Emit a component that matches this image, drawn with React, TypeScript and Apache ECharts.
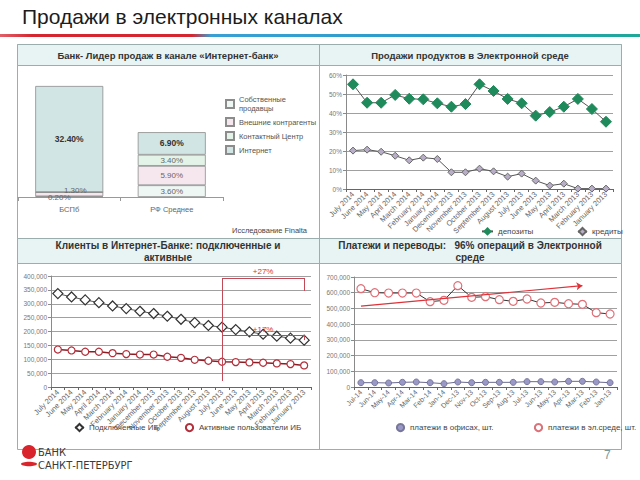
import React, { useEffect, useRef } from 'react';
import * as echarts from 'echarts';

const FONT = '"Liberation Sans", Arial, sans-serif';

// Panel 1: stacked bars (%)
const barCategories = ['БСПб', 'РФ Среднее'];
const ownSellers = [0.2, 3.6];
const externalAgents = [1.3, 5.9];
const contactCenter = [0, 3.4];
const internetChannel = [32.4, 6.9];

// Panel 2 & 3 months
const monthsLong = ['July 2014', 'June 2014', 'May 2014', 'April 2014', 'March 2014', 'February 2014', 'January 2014', 'December 2013', 'November 2013', 'October 2013', 'September 2013', 'August 2013', 'July 2013', 'June 2013', 'May 2013', 'April 2013', 'March 2013', 'February 2013', 'January 2013'];
const depositShare = [55.1, 45.4, 45.4, 49.5, 47.5, 47.2, 45.1, 43.3, 44.7, 55.1, 51.6, 47.4, 45.1, 38.6, 40.5, 43.3, 47.4, 42.1, 35.4];
const creditShare = [20.2, 20.7, 19.6, 17.5, 15.1, 16.5, 15.8, 8.8, 8.8, 10.7, 9.3, 6.5, 8.1, 4.4, 1.8, 2.8, 0.2, 0.2, 0.2];
const pctTicks = [0, 10, 20, 30, 40, 50, 60];

const connectedClients = [336500, 324500, 313800, 304000, 292000, 282600, 273000, 264700, 255000, 244000, 232000, 221600, 215600, 207000, 198800, 190000, 183000, 176000, 168900];
const activeClients = [135000, 131700, 127000, 127000, 122000, 118600, 117000, 117000, 109000, 105000, 98000, 94600, 91000, 89800, 88600, 87400, 85000, 82600, 77800];
const growthStartIndex = 12;
const growthEndIndex = 18;
const growth27 = { label: '+27%', top: 392800, end: 346000, bottom: 21600 };
const growth17 = { label: '+17%', top: 187000, end: 169000 };

// Panel 4
const monthsShort = ['Jul-14', 'Jun-14', 'May-14', 'Apr-14', 'Mar-14', 'Feb-14', 'Jan-14', 'Dec-13', 'Nov-13', 'Oct-13', 'Sep-13', 'Aug-13', 'Jul-13', 'Jun-13', 'May-13', 'Apr-13', 'Mar-13', 'Feb-13', 'Jan-13'];
const officePayments = [27500, 27500, 25500, 29700, 31800, 27500, 21000, 31800, 27500, 29700, 29700, 29700, 34000, 34000, 31800, 36000, 36000, 31800, 27500];
const onlinePayments = [625800, 600000, 598000, 598000, 598000, 543000, 551500, 645000, 570600, 574800, 555800, 545000, 560000, 534500, 538800, 530000, 526000, 473000, 464500];
const trendStart = { index: 0, value: 515000 };
const trendEnd = { index: 16, value: 645000 };

const thousands = (v: number) => (v === 0 ? '0' : v.toLocaleString('en-US'));

export default function App() {
  const ref = useRef<HTMLDivElement>(null);
  useEffect(() => {
    if (!ref.current) return;
    const chart = echarts.init(ref.current, null, { renderer: 'svg' });

    const barLabel = (p: any) => (p.value ? Number(p.value).toFixed(2) + '%' : '');
    const smallOffsets: Record<string, number[]> = { own: [-10, 1], ext: [6, -4] };
    const mkBarData = (arr: number[], key?: string) =>
      arr.map((v, i) => (i === 0 && key ? { value: v, label: { offset: smallOffsets[key] } } : v));

    const barSeries = (name: string, data: any[], color: string, bold = false) => ({
      type: 'bar',
      name,
      stack: 'total',
      xAxisIndex: 0,
      yAxisIndex: 0,
      barWidth: 68,
      data,
      itemStyle: { color, borderColor: '#8c8c8c', borderWidth: 0.8 },
      label: {
        show: true,
        position: 'inside',
        formatter: barLabel,
        fontFamily: FONT,
        fontSize: bold ? 8.5 : 8,
        fontWeight: bold ? 'bold' : 'normal',
        color: bold ? '#333' : '#666',
      },
    });

    const lineYAxis = (gridIndex: number, max: number, interval: number, fmt: any) => ({
      type: 'value',
      gridIndex,
      min: 0,
      max,
      interval,
      axisLine: { show: true, lineStyle: { color: '#8a8a8a' } },
      axisTick: { show: true, length: 3, lineStyle: { color: '#8a8a8a' } },
      axisLabel: { fontFamily: FONT, fontSize: 6.5, color: '#777', margin: 4, formatter: fmt },
      splitLine: { lineStyle: { color: '#a0a0a0', width: 1 } },
    });
    const lineXAxis = (gridIndex: number, data: string[], fontSize: number) => ({
      type: 'category',
      gridIndex,
      data,
      axisLine: { lineStyle: { color: '#666' } },
      axisTick: { show: true, length: 3, lineStyle: { color: '#666' } },
      axisLabel: { interval: 0, rotate: 45, fontFamily: FONT, fontSize, color: '#666', margin: 4 },
    });

    const legendText = { fontFamily: FONT, fontSize: 8, color: '#444' };
    const hdr = { fill: '#e8f4f4', stroke: '#9aaeae', lineWidth: 1 };

    const option: any = {
      animation: false,
      backgroundColor: '#fff',
      textStyle: { fontFamily: FONT },
      grid: [
        { left: 18, top: 66, width: 205, height: 131, outerBoundsMode: 'none' },
        { left: 346, top: 75, width: 267, height: 114, outerBoundsMode: 'none' },
        { left: 51, top: 276, width: 260, height: 111, outerBoundsMode: 'none' },
        { left: 354, top: 277, width: 263, height: 110, outerBoundsMode: 'none' },
      ],
      xAxis: [
        {
          type: 'category',
          gridIndex: 0,
          data: barCategories,
          axisLine: { lineStyle: { color: '#999' } },
          axisTick: { show: true, length: 4, lineStyle: { color: '#999' } },
          axisLabel: { fontFamily: FONT, fontSize: 7.5, color: '#666', margin: 8 },
        },
        lineXAxis(1, monthsLong, 7.5),
        lineXAxis(2, monthsLong, 7.5),
        lineXAxis(3, monthsShort, 7),
      ],
      yAxis: [
        { type: 'value', gridIndex: 0, min: 0, max: 40, show: false },
        lineYAxis(1, pctTicks[pctTicks.length - 1], 10, '{value}%'),
        lineYAxis(2, 400000, 50000, thousands),
        lineYAxis(3, 700000, 100000, thousands),
      ],
      legend: [
        {
          orient: 'vertical',
          left: 220,
          top: 90,
          icon: 'rect',
          itemWidth: 8,
          itemHeight: 8,
          itemGap: 4,
          data: ['Собственные продавцы', 'Внешние контрагенты', 'Контактный Центр', 'Интернет'],
          formatter: (n: string) => (n === 'Собственные продавцы' ? 'Собственные\nпродавцы' : n),
          textStyle: { fontFamily: FONT, fontSize: 7.5, color: '#555', lineHeight: 9 },
        },
        { left: 476, top: 222, itemWidth: 11, itemHeight: 11, data: ['депозиты'], textStyle: legendText },
        { left: 572, top: 222, itemWidth: 9, itemHeight: 9, data: ['кредиты'], textStyle: legendText },
        { left: 69, top: 418, itemWidth: 9, itemHeight: 9, data: ['Подключенные ИБ'], textStyle: legendText },
        { left: 179, top: 418, itemWidth: 9, itemHeight: 9, data: ['Активные пользователи ИБ'], textStyle: legendText },
        { left: 390, top: 418, itemWidth: 9, itemHeight: 9, data: ['платежи в офисах, шт.'], textStyle: legendText },
        { left: 528, top: 418, itemWidth: 9, itemHeight: 9, data: ['платежи в эл.среде, шт.'], textStyle: legendText },
      ],
      series: [
        barSeries('Собственные продавцы', mkBarData(ownSellers, 'own'), '#eef7f3'),
        barSeries('Внешние контрагенты', mkBarData(externalAgents, 'ext'), '#f6e7ef'),
        barSeries('Контактный Центр', mkBarData(contactCenter), '#e3f3e7'),
        barSeries('Интернет', mkBarData(internetChannel), '#d2e5e5', true),
        {
          type: 'line',
          name: 'депозиты',
          xAxisIndex: 1,
          yAxisIndex: 1,
          data: depositShare,
          symbol: 'diamond',
          symbolSize: 11,
          itemStyle: { color: '#1f8a5b', borderColor: '#1f8a5b' },
          lineStyle: { color: '#555', width: 1 },
        },
        {
          type: 'line',
          name: 'кредиты',
          xAxisIndex: 1,
          yAxisIndex: 1,
          data: creditShare,
          symbol: 'diamond',
          symbolSize: 7,
          itemStyle: { color: '#b8aec8', borderColor: '#666', borderWidth: 1 },
          lineStyle: { color: '#555', width: 1 },
        },
        {
          type: 'line',
          name: 'Подключенные ИБ',
          xAxisIndex: 2,
          yAxisIndex: 2,
          data: connectedClients,
          symbol: 'diamond',
          symbolSize: 10,
          itemStyle: { color: '#ffffff', borderColor: '#333', borderWidth: 1.2 },
          lineStyle: { color: '#555', width: 1 },
        },
        {
          type: 'line',
          name: 'Активные пользователи ИБ',
          xAxisIndex: 2,
          yAxisIndex: 2,
          data: activeClients,
          symbol: 'circle',
          symbolSize: 7,
          itemStyle: { color: '#ffffff', borderColor: '#b2303c', borderWidth: 1.2 },
          lineStyle: { color: '#8c1c24', width: 1.5 },
          markLine: {
            silent: true,
            symbol: ['none', 'none'],
            lineStyle: { color: '#c24a58', width: 1, type: 'solid' },
            label: { show: false },
            data: [
              [{ coord: [growthStartIndex, growth27.top] }, { coord: [growthStartIndex, growth27.bottom] }],
              [
                { coord: [growthStartIndex, growth27.top], label: { show: true, position: 'middle', formatter: growth27.label, color: '#d0304a', fontSize: 8, fontFamily: FONT, distance: 2 } },
                { coord: [growthEndIndex, growth27.top] },
              ],
              [{ coord: [growthEndIndex, growth27.top] }, { coord: [growthEndIndex, growth27.end] }],
              [
                { coord: [growthStartIndex, growth17.top], label: { show: true, position: 'middle', formatter: growth17.label, color: '#d0304a', fontSize: 8, fontFamily: FONT, distance: 2 } },
                { coord: [growthEndIndex, growth17.top] },
              ],
              [{ coord: [growthEndIndex, growth17.top] }, { coord: [growthEndIndex, growth17.end] }],
            ],
          },
        },
        {
          type: 'line',
          name: 'платежи в офисах, шт.',
          xAxisIndex: 3,
          yAxisIndex: 3,
          data: officePayments,
          symbol: 'circle',
          symbolSize: 6,
          itemStyle: { color: '#9a98c6', borderColor: '#77779a', borderWidth: 1 },
          lineStyle: { color: '#6a6a90', width: 1 },
        },
        {
          type: 'line',
          name: 'платежи в эл.среде, шт.',
          xAxisIndex: 3,
          yAxisIndex: 3,
          data: onlinePayments,
          symbol: 'circle',
          symbolSize: 8,
          itemStyle: { color: '#ffffff', borderColor: '#e07078', borderWidth: 1.2 },
          lineStyle: { color: '#333', width: 1 },
          markLine: {
            silent: true,
            symbol: ['none', 'arrow'],
            symbolSize: 6,
            lineStyle: { color: '#e03038', width: 1.2, type: 'solid' },
            label: { show: false },
            data: [[{ coord: [trendStart.index, trendStart.value] }, { coord: [trendEnd.index, trendEnd.value] }]],
          },
        },
      ],
      graphic: [
        {
          type: 'text',
          left: 22,
          top: 6,
          style: { text: 'Продажи в электронных каналах', fontFamily: FONT, fontSize: 21, fill: '#1c1c1c' },
        },
        {
          type: 'rect',
          shape: { x: 0, y: 34, width: 640, height: 3 },
          style: {
            fill: new echarts.graphic.LinearGradient(0, 0, 1, 0, [
              { offset: 0, color: '#e06068' },
              { offset: 0.05, color: '#d42630' },
              { offset: 0.3, color: '#d42630' },
              { offset: 0.33, color: '#3aa0d4' },
              { offset: 0.7, color: '#2a9cc8' },
              { offset: 1, color: '#1fa898' },
            ]),
          },
        },
        {
          type: 'group',
          z: 50,
          children: [
            { type: 'rect', shape: { x: 17.5, y: 44.5, width: 604, height: 405 }, style: { fill: 'none', stroke: '#9aaeae', lineWidth: 1 } },
            { type: 'rect', shape: { x: 17.5, y: 44.5, width: 604, height: 21 }, style: hdr },
            { type: 'rect', shape: { x: 17.5, y: 238.5, width: 604, height: 25 }, style: hdr },
            { type: 'line', shape: { x1: 319.5, y1: 44.5, x2: 319.5, y2: 449.5 }, style: { stroke: '#9aaeae', lineWidth: 1 } },
            {
              type: 'text',
              x: 168,
              y: 55.5,
              style: { text: 'Банк- Лидер продаж в канале «Интернет-банк»', fontFamily: FONT, fontSize: 9.5, fontWeight: 'bold', fill: '#333', align: 'center', verticalAlign: 'middle' },
            },
            {
              type: 'text',
              x: 470,
              y: 55.5,
              style: { text: 'Продажи продуктов в Электронной среде', fontFamily: FONT, fontSize: 9.5, fontWeight: 'bold', fill: '#333', align: 'center', verticalAlign: 'middle' },
            },
            {
              type: 'text',
              x: 168,
              y: 251,
              style: { text: 'Клиенты в Интернет-Банке: подключенные и\nактивные', fontFamily: FONT, fontSize: 10, fontWeight: 'bold', fill: '#333', align: 'center', verticalAlign: 'middle', lineHeight: 12 },
            },
            {
              type: 'text',
              x: 470,
              y: 251,
              style: { text: 'Платежи и переводы:   96% операций в Электронной\nсреде', fontFamily: FONT, fontSize: 10, fontWeight: 'bold', fill: '#333', align: 'center', verticalAlign: 'middle', lineHeight: 12 },
            },
          ],
        },
        {
          type: 'text',
          x: 232,
          y: 230,
          style: { text: 'Исследование Finalta', fontFamily: FONT, fontSize: 7.5, fill: '#444', verticalAlign: 'middle' },
        },
        { type: 'circle', shape: { cx: 29, cy: 452, r: 7 }, style: { fill: '#d8242a' } },
        { type: 'ellipse', shape: { cx: 29, cy: 464, rx: 8, ry: 2.2 }, style: { fill: '#d8242a' } },
        {
          type: 'text',
          x: 38,
          y: 452,
          style: { text: 'БАНК', fontFamily: '"DejaVu Sans Condensed", "DejaVu Sans", sans-serif', fontSize: 11, fill: '#3a3a3a', verticalAlign: 'middle' },
        },
        {
          type: 'text',
          x: 38,
          y: 465,
          style: { text: 'САНКТ-ПЕТЕРБУРГ', fontFamily: '"DejaVu Sans Condensed", "DejaVu Sans", sans-serif', fontSize: 11, fill: '#3a3a3a', verticalAlign: 'middle' },
        },
        {
          type: 'text',
          x: 604,
          y: 455,
          style: { text: '7', fontFamily: FONT, fontSize: 12, fill: '#7a9a9a', verticalAlign: 'middle' },
        },
      ],
    };

    chart.setOption(option);
    return () => chart.dispose();
  }, []);

  return <div ref={ref} style={{ position: 'fixed', left: 0, top: 0, width: 640, height: 480, background: '#fff' }} />;
}
